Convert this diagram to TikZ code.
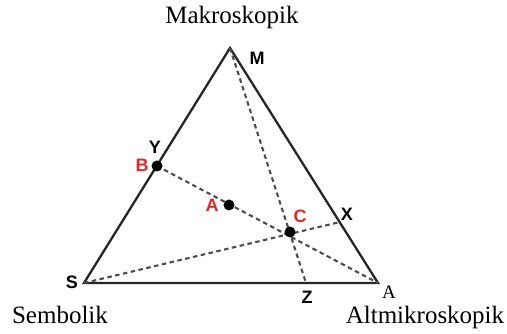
\documentclass[tikz,border=0pt]{standalone}
\usepackage{fontspec}
\setmainfont{Liberation Serif}
\setsansfont{Liberation Sans}
\usetikzlibrary{positioning}
\definecolor{PointRed}{RGB}{232,38,38}
\tikzset{
  side/.style={line width=2.3pt,black!85},
  median/.style={line width=2.1pt,dash pattern=on 4.5pt off 3.5pt,black!70},
  dotmark/.style={circle,fill=black,inner sep=0pt,minimum size=11pt},
  letter/.style={font=\sffamily\bfseries\fontsize{18}{18}\selectfont,inner sep=0pt},
  redletter/.style={letter,text=PointRed},
  cornername/.style={font=\fontsize{25}{25}\selectfont,inner sep=0pt}
}

\begin{document}
\begin{tikzpicture}[x=1pt,y=1pt]
  \useasboundingbox (0,0) rectangle (507,334);

  % vertices of the triangle and feet of the dashed lines
  \coordinate (M) at (230,286);
  \coordinate (S) at (84,51);
  \coordinate (A) at (378,51);
  \coordinate (Z) at (306,51);
  \coordinate (X) at (340,112);

  \draw[side] (M) -- (S) -- (A) -- cycle;

  % points inside
  \coordinate (dotB) at (157,168);
  \coordinate (dotA) at (229,129);
  \coordinate (dotC) at (290,102);

  \draw[median] (M) -- (Z);
  \draw[median] (S) -- (X);
  \draw[median] (dotB) -- (A);

  \node[dotmark] (ptB) at (dotB) {};
  \node[dotmark] (ptA) at (dotA) {};
  \node[dotmark] (ptC) at (dotC) {};

  % letters
  \node[letter] (labM) at (257,276) {M};
  \node[letter] (labY) at (155,187) {Y};
  \node[letter] (labX) at (347,120) {X};
  \node[letter] (labS) at (72,52) {S};
  \node[letter] (labZ) at (307,37) {Z};
  \node[redletter] (labB) at (142,169) {B};
  \node[redletter] (labA) at (212,129) {A};
  \node[redletter] (labC) at (300,118) {C};

  % corner names
  \node[cornername] (makro) at (232,317) {Makroskopik};
  \node[cornername] (sembol) at (60,19) {Sembolik};
  \node[cornername,font=\fontsize{19}{19}\selectfont] (labAv) at (389,42) {A};
  \node[cornername] (altmikro) at (425,17) {Altmikroskopik};
\end{tikzpicture}
\end{document}
